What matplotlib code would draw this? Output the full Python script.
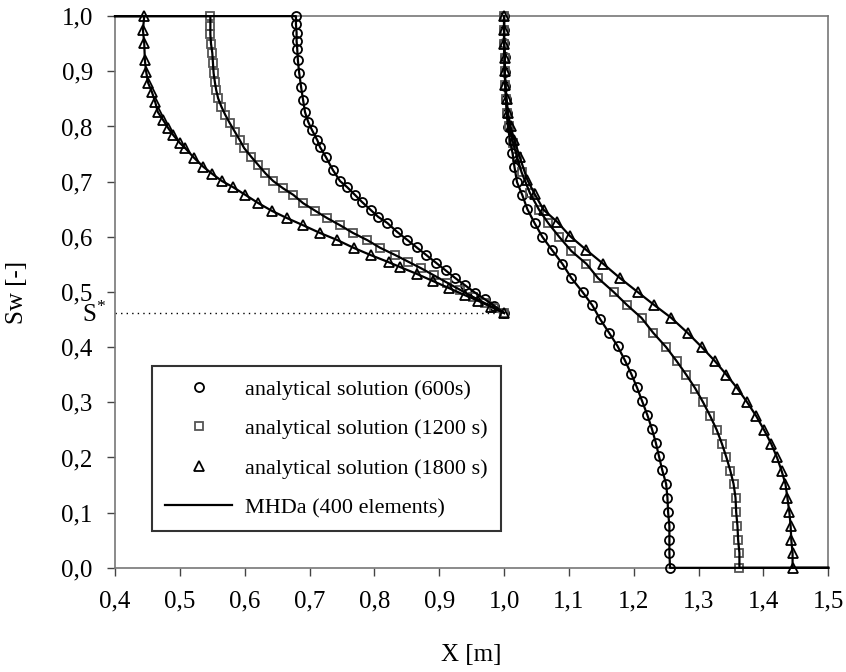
import numpy as np
import matplotlib
matplotlib.use('Agg')
import matplotlib.pyplot as plt

plt.rcParams['font.family'] = ['Liberation Serif', 'DejaVu Serif']
plt.rcParams['mathtext.fontset'] = 'custom'
plt.rcParams['mathtext.rm'] = 'Liberation Serif'

# tick positions and labels (comma decimals as in the original)
x_ticks = [0.4, 0.5, 0.6, 0.7, 0.8, 0.9, 1.0, 1.1, 1.2, 1.3, 1.4, 1.5]
x_labels = ['0,4', '0,5', '0,6', '0,7', '0,8', '0,9', '1,0', '1,1', '1,2', '1,3', '1,4', '1,5']
y_ticks = [0.0, 0.1, 0.2, 0.3, 0.4, 0.5, 0.6, 0.7, 0.8, 0.9, 1.0]
y_labels = ['0,0', '0,1', '0,2', '0,3', '0,4', '0,5', '0,6', '0,7', '0,8', '0,9', '1,0']

s_star = 0.462

# analytical solution, 600 s (left and right of the interface at x = 1.0)
a600_left_x = [0.679, 0.679, 0.680, 0.680, 0.681, 0.682, 0.684, 0.687, 0.690, 0.693, 0.698, 0.704,
               0.712, 0.716, 0.725, 0.736, 0.747, 0.758, 0.770, 0.781, 0.794, 0.806, 0.820, 0.835,
               0.850, 0.865, 0.880, 0.895, 0.910, 0.925, 0.940, 0.955, 0.970, 0.985, 1.000]
a600_left_y = [1.000, 0.985, 0.970, 0.955, 0.940, 0.920, 0.897, 0.871, 0.848, 0.826, 0.808, 0.793,
               0.775, 0.763, 0.745, 0.721, 0.701, 0.690, 0.676, 0.663, 0.649, 0.636, 0.625, 0.609,
               0.595, 0.581, 0.567, 0.553, 0.539, 0.525, 0.512, 0.499, 0.487, 0.475, 0.462]
a600_right_x = [1.000, 1.000, 1.000, 1.001, 1.001, 1.002, 1.003, 1.004, 1.006, 1.009, 1.013, 1.016,
                1.020, 1.028, 1.036, 1.047, 1.059, 1.074, 1.090, 1.104, 1.121, 1.136, 1.148, 1.162,
                1.175, 1.186, 1.196, 1.205, 1.213, 1.221, 1.228, 1.234, 1.239, 1.244, 1.250, 1.252,
                1.253, 1.255, 1.255, 1.255, 1.256]
a600_right_y = [1.000, 0.975, 0.951, 0.926, 0.899, 0.873, 0.850, 0.824, 0.799, 0.776, 0.752, 0.727,
                0.699, 0.676, 0.650, 0.625, 0.600, 0.576, 0.551, 0.525, 0.500, 0.476, 0.451, 0.426,
                0.402, 0.377, 0.352, 0.327, 0.302, 0.277, 0.252, 0.227, 0.202, 0.177, 0.152, 0.127,
                0.101, 0.076, 0.051, 0.027, 0.000]

# analytical solution, 1200 s
a1200_left_x = [0.547, 0.547, 0.547, 0.548, 0.550, 0.551, 0.552, 0.554, 0.556, 0.559, 0.564, 0.570,
                0.577, 0.585, 0.592, 0.599, 0.610, 0.621, 0.632, 0.644, 0.659, 0.675, 0.690, 0.709,
                0.727, 0.747, 0.767, 0.789, 0.809, 0.832, 0.852, 0.872, 0.892, 0.912, 0.932, 0.952,
                0.970, 0.985, 1.000]
a1200_left_y = [1.000, 0.982, 0.967, 0.950, 0.933, 0.915, 0.897, 0.880, 0.866, 0.851, 0.836, 0.821,
                0.806, 0.790, 0.776, 0.761, 0.745, 0.730, 0.715, 0.701, 0.688, 0.676, 0.661, 0.647,
                0.634, 0.621, 0.607, 0.594, 0.580, 0.567, 0.555, 0.543, 0.530, 0.517, 0.504, 0.491,
                0.480, 0.471, 0.462]
a1200_right_x = [1.000, 1.000, 1.000, 1.001, 1.001, 1.002, 1.003, 1.005, 1.008, 1.014, 1.020, 1.027,
                 1.040, 1.054, 1.068, 1.085, 1.104, 1.127, 1.145, 1.169, 1.190, 1.212, 1.230, 1.250,
                 1.266, 1.281, 1.295, 1.307, 1.318, 1.328, 1.336, 1.343, 1.349, 1.354, 1.357, 1.358,
                 1.360, 1.361, 1.363, 1.363]
a1200_right_y = [1.000, 0.975, 0.950, 0.925, 0.900, 0.875, 0.850, 0.825, 0.800, 0.770, 0.745, 0.717,
                 0.679, 0.649, 0.625, 0.600, 0.574, 0.551, 0.525, 0.500, 0.476, 0.453, 0.426, 0.400,
                 0.375, 0.350, 0.325, 0.300, 0.275, 0.250, 0.225, 0.200, 0.176, 0.152, 0.127, 0.101,
                 0.076, 0.051, 0.027, 0.000]

# analytical solution, 1800 s
a1800_left_x = [0.445, 0.443, 0.445, 0.446, 0.448, 0.451, 0.457, 0.462, 0.466, 0.474, 0.482, 0.490,
                0.500, 0.508, 0.522, 0.536, 0.550, 0.565, 0.582, 0.601, 0.621, 0.642, 0.665, 0.690,
                0.716, 0.743, 0.768, 0.794, 0.822, 0.840, 0.865, 0.890, 0.915, 0.940, 0.960, 0.980,
                1.000]
a1800_left_y = [1.000, 0.975, 0.951, 0.920, 0.899, 0.879, 0.862, 0.844, 0.826, 0.812, 0.797, 0.784,
                0.770, 0.761, 0.743, 0.727, 0.714, 0.701, 0.690, 0.676, 0.661, 0.647, 0.634, 0.621,
                0.607, 0.594, 0.580, 0.567, 0.554, 0.545, 0.533, 0.520, 0.507, 0.494, 0.484, 0.473,
                0.462]
a1800_right_x = [1.000, 1.000, 1.000, 1.001, 1.001, 1.002, 1.004, 1.006, 1.010, 1.016, 1.024, 1.036,
                 1.047, 1.061, 1.082, 1.102, 1.127, 1.153, 1.179, 1.206, 1.232, 1.258, 1.283, 1.305,
                 1.325, 1.343, 1.360, 1.375, 1.389, 1.401, 1.412, 1.421, 1.428, 1.434, 1.437, 1.440,
                 1.442, 1.443, 1.445, 1.445]
a1800_right_y = [1.000, 0.975, 0.950, 0.925, 0.900, 0.875, 0.850, 0.825, 0.800, 0.775, 0.745, 0.703,
                 0.678, 0.649, 0.627, 0.601, 0.576, 0.551, 0.525, 0.500, 0.476, 0.453, 0.426, 0.400,
                 0.375, 0.350, 0.325, 0.300, 0.275, 0.250, 0.225, 0.200, 0.176, 0.152, 0.127, 0.101,
                 0.076, 0.051, 0.027, 0.000]

x_min, x_max = 0.4, 1.5

fig = plt.figure(figsize=(8.46, 6.72), dpi=100)
ax = fig.add_axes([0.136, 0.155, 0.843, 0.821])

series = [
    (a600_left_x, a600_left_y, a600_right_x, a600_right_y, 'o', 'black', 6.5),
    (a1200_left_x, a1200_left_y, a1200_right_x, a1200_right_y, 's', '#555555', 6),
    (a1800_left_x, a1800_left_y, a1800_right_x, a1800_right_y, '^', 'black', 6.5),
]

for lx, ly, rx, ry, mk, col, ms in series:
    # analytical points
    ax.plot(lx + rx, ly + ry, linestyle='none', marker=mk, ms=ms, mfc='none',
            mec=col, mew=1.3, zorder=3, clip_on=False)
    # MHDa numerical solution (plateaus at Sw = 1 and Sw = 0)
    ax.plot([x_min] + lx, [1.0] + ly, color='black', lw=1.6, zorder=4, clip_on=False)
    ax.plot(rx + [x_max], ry + [0.0], color='black', lw=1.6, zorder=4, clip_on=False)

# S* level
ax.plot([x_min, 1.0], [s_star, s_star], color='black', lw=1.0,
        linestyle=(0, (1, 3)), zorder=2)
ax.text(-0.012, s_star - 0.002, r'S$^{*}$', transform=ax.get_yaxis_transform(),
        ha='right', va='center', fontsize=18)

ax.set_xlim(x_min, x_max)
ax.set_ylim(0.0, 1.0)
ax.set_xticks(x_ticks)
ax.set_xticklabels(x_labels)
ax.set_yticks(y_ticks)
ax.set_yticklabels(y_labels)
ax.tick_params(direction='out', length=6, width=1, color='#444444',
               labelsize=18, pad=10)
for sp in ax.spines.values():
    sp.set_color('#777777')
    sp.set_linewidth(1.2)

ax.set_xlabel('X [m]', fontsize=18, labelpad=23)
ax.set_ylabel('Sw [-]', fontsize=18, labelpad=24)

# legend
h1, = ax.plot([], [], linestyle='none', marker='o', ms=6.5, mfc='none', mec='black', mew=1.3)
h2, = ax.plot([], [], linestyle='none', marker='s', ms=6, mfc='none', mec='#555555', mew=1.3)
h3, = ax.plot([], [], linestyle='none', marker='^', ms=6.5, mfc='none', mec='black', mew=1.3)
h4, = ax.plot([], [], color='black', lw=1.6)
leg = ax.legend([h1, h2, h3, h4],
                ['analytical solution (600s)', 'analytical solution (1200 s)',
                 'analytical solution (1800 s)', 'MHDa (400 elements)'],
                loc='lower left', bbox_to_anchor=(0.052, 0.066), fontsize=16,
                frameon=True, fancybox=False, labelspacing=0.85, handlelength=3.0,
                handletextpad=0.6, borderpad=0.6, borderaxespad=0)
leg.get_frame().set_edgecolor('black')
leg.get_frame().set_linewidth(1.5)

fig.savefig('out.png', dpi=100)
